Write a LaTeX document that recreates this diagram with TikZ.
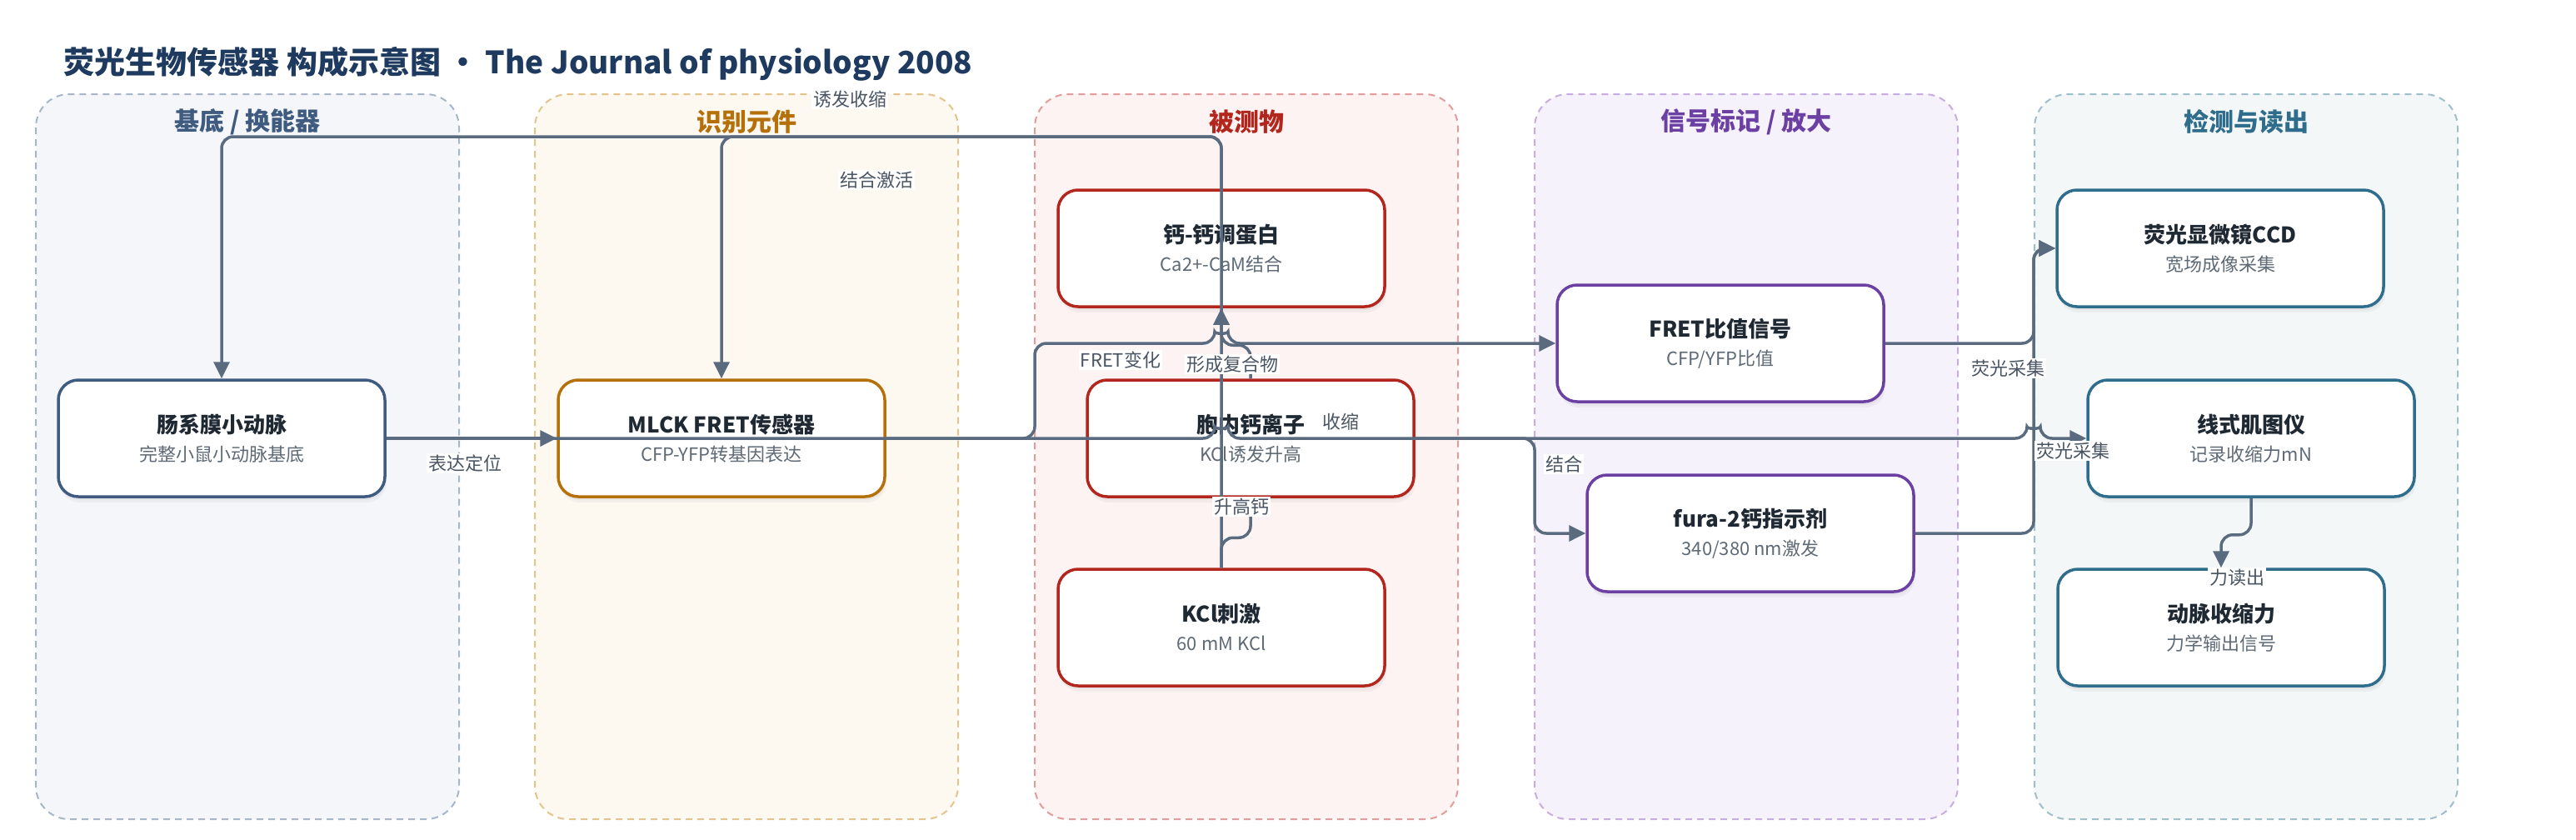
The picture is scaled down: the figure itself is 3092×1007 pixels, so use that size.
\documentclass[tikz,border=0pt]{standalone}
\usepackage{fontspec}
\setmainfont{Noto Sans CJK SC}
\usetikzlibrary{arrows.meta,shadows}

\definecolor{titleink}{HTML}{1E3A5F}
\definecolor{ink}{HTML}{1F2933}
\definecolor{subink}{HTML}{5E6A76}
\definecolor{labink}{HTML}{4A5563}
\definecolor{linkc}{HTML}{5B6B7F}
\definecolor{laneAf}{HTML}{F4F6FA}
\definecolor{laneAd}{HTML}{A7B6C8}
\definecolor{cA}{HTML}{3F5B7F}
\definecolor{laneBf}{HTML}{FDF8F0}
\definecolor{laneBd}{HTML}{E3C48C}
\definecolor{cB}{HTML}{B5700A}
\definecolor{laneCf}{HTML}{FDF3F3}
\definecolor{laneCd}{HTML}{E39C9C}
\definecolor{cC}{HTML}{B3261E}
\definecolor{laneDf}{HTML}{F6F2FB}
\definecolor{laneDd}{HTML}{C7AEE0}
\definecolor{cD}{HTML}{6C3FA3}
\definecolor{laneEf}{HTML}{F3F7F8}
\definecolor{laneEd}{HTML}{9EC0CD}
\definecolor{cE}{HTML}{2F6D8C}

\newcommand{\ntitle}[1]{{\fontsize{26}{34}\selectfont\bfseries\color{ink}#1}}

\tikzset{
  lane/.style 2 args={fill=#1, draw=#2, line width=2pt, dash pattern=on 8pt off 6pt, rounded corners=40pt},
  lanehead/.style={font=\fontsize{30}{36}\selectfont\bfseries},
  unit/.style={draw=#1, fill=white, line width=3.5pt, rounded corners=24pt,
    minimum width=392pt, minimum height=140pt, align=center, text=subink,
    font=\fontsize{22}{34}\selectfont,
    drop shadow={shadow xshift=2pt, shadow yshift=-7pt, opacity=0.07},
    drop shadow={shadow xshift=1pt, shadow yshift=-4pt, opacity=0.08}},
  link/.style={draw=linkc, line width=3.5pt, rounded corners=14pt, -{Triangle[length=20pt,width=19pt]}},
  lbl/.style={fill=white, inner sep=2pt, text=labink, font=\fontsize{22}{26}\selectfont}
}

\begin{document}
\begin{tikzpicture}[x=1pt,y=-1pt]
  \useasboundingbox (0,0) rectangle (3092,1007);
  \node[anchor=west, text=titleink, font=\fontsize{37}{44}\selectfont\bfseries] (title) at (73,77)
    {荧光生物传感器 构成示意图 · The Journal of physiology 2008};

  \foreach \lx/\lf/\ld/\lh/\lt in {43/laneAf/laneAd/cA/{基底 / 换能器}, 642/laneBf/laneBd/cB/识别元件,
      1242/laneCf/laneCd/cC/被测物, 1842/laneDf/laneDd/cD/{信号标记 / 放大}, 2442/laneEf/laneEd/cE/检测与读出}
  {
    \draw[lane={\lf}{\ld}] (\lx,113) rectangle ++(508,870);
    \node[lanehead, text=\lh] (lane\lx) at (\lx+254,146) {\lt};
  }

  \node[unit=cA] (artery) at (266,526) {\ntitle{肠系膜小动脉}\\完整小鼠小动脉基底};
  \node[unit=cB] (sensor) at (866,526) {\ntitle{MLCK FRET传感器}\\CFP-YFP转基因表达};
  \node[unit=cC] (cam) at (1466,298) {\ntitle{钙-钙调蛋白}\\Ca2+-CaM结合};
  \node[unit=cC] (calcium) at (1501,526) {\ntitle{胞内钙离子}\\KCl诱发升高};
  \node[unit=cC] (kcl) at (1466,753) {\ntitle{KCl刺激}\\60 mM KCl};
  \node[unit=cD] (fretsig) at (2065,412) {\ntitle{FRET比值信号}\\CFP/YFP比值};
  \node[unit=cD] (fura) at (2101,640) {\ntitle{fura-2钙指示剂}\\340/380 nm激发};
  \node[unit=cE] (ccd) at (2665,298) {\ntitle{荧光显微镜CCD}\\宽场成像采集};
  \node[unit=cE] (myo) at (2702,526) {\ntitle{线式肌图仪}\\记录收缩力mN};
  \node[unit=cE] (force) at (2666,753) {\ntitle{动脉收缩力}\\力学输出信号};

  \coordinate (topbus) at (0,164);
  \draw[link] (artery.east) -- (sensor.west);
  \draw[link] (artery.east) -- (1458,526) .. controls (1458,515) and (1474,515) .. (1474,526)
    -- (2433,526) .. controls (2433,515) and (2449,515) .. (2449,526) -- (myo.west);
  \draw[link] (sensor.east) -- (1242,526) -- (1242,412) -- (1458,412)
    .. controls (1458,401) and (1474,401) .. (1474,412) -- (fretsig.west);
  \draw[link] (kcl.north) -- (kcl.north |- topbus) -| (artery.north);
  \draw[link] (cam.north) -- (cam.north |- topbus) -| (sensor.north);
  \draw[link] (calcium.north) -- ++(0,-40) -| (cam.south);
  \draw[link] (kcl.north) -- ++(0,-36) -| (calcium.south);
  \draw[link] (calcium.east) -- (1842,526) |- (fura.west);
  \draw[link] (fretsig.east) -- (2441,412) |- (ccd.west);
  \draw[link] (fura.east) -- (2441,640) |- (ccd.west);
  \draw[link] (myo.south) -- ++(0,44) -| (force.north);

  \node[lbl] (l1) at (558,556) {表达定位};
  \node[lbl] (l2) at (1020,119) {诱发收缩};
  \node[lbl] (l3) at (1052,216) {结合激活};
  \node[lbl] (l4) at (1345,432) {FRET变化};
  \node[lbl] (l5) at (1479,437) {形成复合物};
  \node[lbl] (l6) at (1609,506) {收缩};
  \node[lbl] (l7) at (1490,608) {升高钙};
  \node[lbl] (l8) at (1877,557) {结合};
  \node[lbl] (l9) at (2410,442) {荧光采集};
  \node[lbl] (l10) at (2488,541) {荧光采集};
  \node[lbl] (l11) at (2685,693) {力读出};
\end{tikzpicture}
\end{document}
